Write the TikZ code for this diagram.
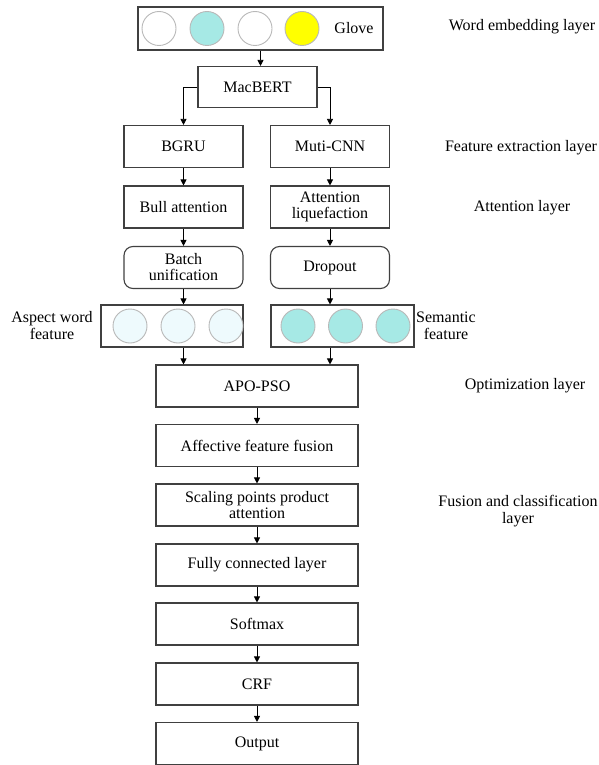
\documentclass[tikz,border=0pt]{standalone}
\usepackage{fontspec}
\setmainfont{LiberationSerif}[Extension=.ttf,UprightFont=*-Regular,BoldFont=*-Bold,ItalicFont=*-Italic,BoldItalicFont=*-BoldItalic]
\usetikzlibrary{arrows.meta}
\definecolor{cyanf}{HTML}{A6E9E5}
\definecolor{lightf}{HTML}{EEFAFD}
\definecolor{yel}{HTML}{FFFF00}
\definecolor{circ}{HTML}{B8B8B8}
\definecolor{edge}{HTML}{404040}
\begin{document}
\begin{tikzpicture}[x=1pt,y=-1pt,
  font=\fontsize{16}{19}\selectfont,
  box/.style={draw=edge,line width=1.1pt,inner sep=1pt,align=center,minimum height=42pt},
  sbox/.style={box,minimum width=119pt},
  wbox/.style={box,minimum width=202pt},
  rbox/.style={sbox,rounded corners=9pt},
  dot/.style={circle,draw=circ,line width=0.9pt,minimum size=34pt,inner sep=0pt},
  lab/.style={align=center,inner sep=0pt},
  arr/.style={draw=black,line width=0.8pt,-{Triangle[length=6pt,width=6pt]}},
  ]
\useasboundingbox (0,0) rectangle (599,765);
% embedding
\node[box,minimum width=245pt,minimum height=43pt] (glove) at (260.5,28.5) {};
\node[dot,fill=white] (g1) at (159,28.5) {};
\node[dot,fill=cyanf] (g2) at (207,28.5) {};
\node[dot,fill=white] (g3) at (255,28.5) {};
\node[dot,fill=yel] (g4) at (302,28.5) {};
\node[lab] (gt) at (354,28.5) {Glove};
\node[box,minimum width=119pt,minimum height=41pt] (mac) at (257.5,87) {MacBERT};
% branches
\node[sbox] (bgru) at (183.5,146.5) {BGRU};
\node[sbox] (cnn) at (330,146.5) {Muti-CNN};
\node[sbox] (bull) at (183.5,207) {Bull attention};
\node[sbox] (liq) at (330,207) {Attention\\[-3pt]liquefaction};
\node[rbox] (batch) at (183.5,267.5) {Batch\\[-3pt]unification};
\node[rbox] (drop) at (330,267.5) {Dropout};
% feature boxes
\node[box,minimum width=142pt] (asp) at (172,326) {};
\node[dot,fill=lightf] (a1) at (130,326) {};
\node[dot,fill=lightf] (a2) at (178,326) {};
\node[dot,fill=lightf] (a3) at (226,326) {};
\node[box,minimum width=143pt] (sem) at (342.5,326) {};
\node[dot,fill=cyanf] (s1) at (298,326) {};
\node[dot,fill=cyanf] (s2) at (345.5,326) {};
\node[dot,fill=cyanf] (s3) at (393,326) {};
% main column
\node[wbox] (apo) at (257,386) {APO-PSO};
\node[wbox] (aff) at (257,445.5) {Affective feature fusion};
\node[wbox] (scal) at (257,505) {Scaling points product\\[-3pt]attention};
\node[wbox] (fc) at (257,565) {Fully connected layer};
\node[wbox] (soft) at (257,624) {Softmax};
\node[wbox] (crf) at (257,684) {CRF};
\node[wbox] (out) at (257,743.5) {Output};
% side labels
\node[lab] (l1) at (522,27) {Word embedding layer};
\node[lab] (l2) at (521,148) {Feature extraction layer};
\node[lab] (l3) at (522,208) {Attention layer};
\node[lab] (l4) at (525,386) {Optimization layer};
\node[lab] (l5) at (518,511) {Fusion and classification\\[-2pt]layer};
\node[lab] (la) at (52,326) {Aspect word\\[-2pt]feature};
\node[lab] (ls) at (446,326) {Semantic\\[-2pt]feature};
% connectors
\draw[arr] (glove.south) -- (glove.south |- mac.north);
\draw[arr] (mac.west) -| (bgru.north);
\draw[arr] (mac.east) -| (cnn.north);
\draw[arr] (bgru) -- (bull);
\draw[arr] (cnn) -- (liq);
\draw[arr] (bull) -- (batch);
\draw[arr] (liq) -- (drop);
\draw[arr] (batch.south) -- (batch.south |- asp.north);
\draw[arr] (drop.south) -- (drop.south |- sem.north);
\draw[arr] (asp.south -| batch.south) -- (batch.south |- apo.north);
\draw[arr] (sem.south -| drop.south) -- (drop.south |- apo.north);
\draw[arr] (apo) -- (aff);
\draw[arr] (aff) -- (scal);
\draw[arr] (scal) -- (fc);
\draw[arr] (fc) -- (soft);
\draw[arr] (soft) -- (crf);
\draw[arr] (crf) -- (out);
\end{tikzpicture}
\end{document}
